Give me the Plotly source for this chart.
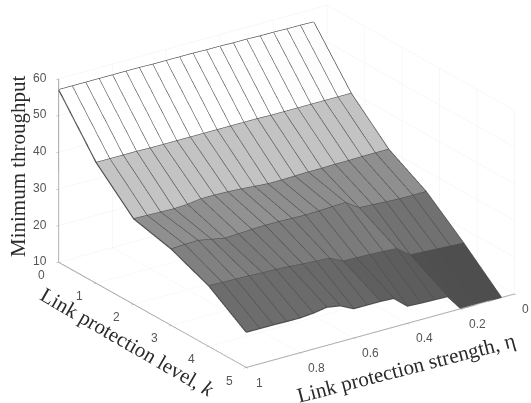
import plotly.graph_objects as go

eta = [1.0, 0.95, 0.9, 0.85, 0.8, 0.75, 0.7, 0.65, 0.6, 0.55, 0.5, 0.45, 0.4, 0.35, 0.3, 0.25, 0.2, 0.15, 0.1, 0.05]
k_levels = [0, 1, 2, 3, 4, 5]
z_k0 = [57.0, 57.0, 57.0, 57.0, 57.0, 57.0, 57.0, 56.9, 56.9, 56.9, 56.9, 56.8, 56.8, 56.7, 56.7, 56.6, 56.6, 56.5, 56.5, 56.4]
z_k1 = [42.9, 42.9, 42.9, 42.9, 42.8, 42.8, 42.8, 42.8, 42.8, 42.8, 42.8, 42.8, 42.8, 42.7, 42.7, 42.7, 42.7, 42.7, 42.7, 42.7]
z_k2 = [33.3, 33.2, 33.1, 33.0, 33.2, 33.7, 33.7, 33.6, 33.4, 33.1, 32.8, 32.8, 32.9, 33.0, 33.0, 33.1, 33.1, 33.2, 33.2, 33.2]
z_k3 = [30.8, 31.0, 31.1, 30.4, 29.7, 29.9, 30.1, 30.2, 30.2, 30.1, 30.0, 30.1, 30.3, 30.4, 28.0, 27.8, 27.6, 27.4, 27.4, 27.4]
z_k4 = [26.5, 26.4, 26.3, 26.2, 26.0, 25.9, 25.7, 25.4, 25.2, 25.0, 23.2, 23.1, 23.0, 22.8, 22.6, 19.9, 19.7, 19.5, 19.3, 19.1]
z_k5 = [19.6, 19.6, 19.6, 19.5, 19.5, 19.8, 20.4, 19.8, 18.0, 18.0, 18.0, 17.8, 14.7, 14.5, 14.4, 14.3, 10.0, 10.0, 10.0, 10.1]
rows = [z_k0, z_k1, z_k2, z_k3, z_k4, z_k5]

eta_ticks = [0, 0.2, 0.4, 0.6, 0.8, 1]
eta_ticklabels = ["0", "0.2", "0.4", "0.6", "0.8", "1"]
k_ticks = [0, 1, 2, 3, 4, 5]
z_ticks = [10, 20, 30, 40, 50, 60]

nk, ne = len(k_levels), len(eta)
xs, ys, zs = [], [], []
for a in range(nk):
    for b in range(ne):
        xs.append(k_levels[a]); ys.append(eta[b]); zs.append(rows[a][b])

I, J, K, cell = [], [], [], []
for a in range(nk - 1):
    for b in range(ne - 1):
        p = a * ne + b
        q = p + 1
        r = p + ne
        s = r + 1
        I += [p, p]; J += [q, s]; K += [s, r]
        cell += [rows[a][b], rows[a][b]]

fig = go.Figure()
fig.add_trace(go.Mesh3d(
    x=xs, y=ys, z=zs, i=I, j=J, k=K,
    intensity=cell, intensitymode="cell",
    cmin=10, cmax=57, showscale=False,
    colorscale=[[0, "#1e1e1e"], [0.19, "#4c4c4c"], [0.34, "#6c6c6c"], [0.43, "#7c7c7c"],
                [0.49, "#8e8e8e"], [0.70, "#c4c4c4"], [1, "#ffffff"]],
    flatshading=True,
    lighting=dict(ambient=1, diffuse=0, specular=0, roughness=1, fresnel=0),
    hoverinfo="skip",
))

lx, ly, lz = [], [], []
for a in range(nk):
    lx += [k_levels[a]] * ne + [None]
    ly += eta + [None]
    lz += rows[a] + [None]
for b in range(ne):
    lx += k_levels + [None]
    ly += [eta[b]] * nk + [None]
    lz += [rows[a][b] for a in range(nk)] + [None]
fig.add_trace(go.Scatter3d(x=lx, y=ly, z=lz, mode="lines",
                           line=dict(color="#4e4e4e", width=2.4), hoverinfo="skip"))

TICK = dict(family="Liberation Sans", size=12, color="#555555")
TITLE = dict(family="Liberation Serif", size=21, color="#2a2a2a")

def axis(**kw):
    return dict(title=dict(text=""), showbackground=False, showspikes=False, zeroline=False,
                gridcolor="#f0f0f0", gridwidth=1, showline=True, linecolor="#999999", linewidth=2,
                ticks="outside", ticklen=3, tickcolor="#999999", showticklabels=False, **kw)

scene_notes = []
for v in z_ticks:
    scene_notes.append(dict(x=0, y=1, z=v, text=str(v), showarrow=False, font=TICK, xshift=-19, yshift=1))
for v in k_ticks:
    scene_notes.append(dict(x=v, y=1, z=10, text=str(v), showarrow=False, font=TICK, xshift=-17, yshift=-13))
for v, t in zip(eta_ticks, eta_ticklabels):
    dx = 11 if v == 0 else (13 if v == 1 else 17)
    scene_notes.append(dict(x=5, y=v, z=10, text=t, showarrow=False, font=TICK, xshift=dx, yshift=-15))

cx, cy, cz = -0.036, -0.103, -0.069
fig.update_layout(
    width=531, height=403, margin=dict(l=0, r=0, t=0, b=0),
    paper_bgcolor="white", showlegend=False,
    scene=dict(
        domain=dict(x=[0, 1], y=[0, 1]),
        aspectmode="manual", aspectratio=dict(x=1.625, y=1.625, z=0.99),
        camera=dict(projection=dict(type="orthographic"), up=dict(x=0, y=0, z=1),
                    center=dict(x=cx, y=cy, z=cz),
                    eye=dict(x=0.754 + cx, y=-0.527 + cy, z=0.392 + cz)),
        xaxis=axis(range=[0, 5], tickvals=k_ticks),
        yaxis=axis(range=[1, 0], tickvals=eta_ticks),
        zaxis=axis(range=[10, 60], tickvals=z_ticks),
        annotations=scene_notes,
    ),
    annotations=[
        dict(text="Minimum throughput", xref="paper", yref="paper", x=18 / 531, y=1 - 166 / 403,
             xanchor="center", yanchor="middle", showarrow=False, textangle=-90, font=TITLE),
        dict(text="Link protection level, <i>k</i>", xref="paper", yref="paper", x=127 / 531, y=1 - 342 / 403,
             xanchor="center", yanchor="middle", showarrow=False, textangle=30, font=TITLE),
        dict(text="Link protection strength, η", xref="paper", yref="paper", x=406 / 531, y=1 - 368 / 403,
             xanchor="center", yanchor="middle", showarrow=False, textangle=-14.5, font=TITLE),
    ],
)
fig.write_html("out.html", config={"displayModeBar": False},
               post_script="document.body.style.margin='0';document.body.style.overflow='hidden';")
